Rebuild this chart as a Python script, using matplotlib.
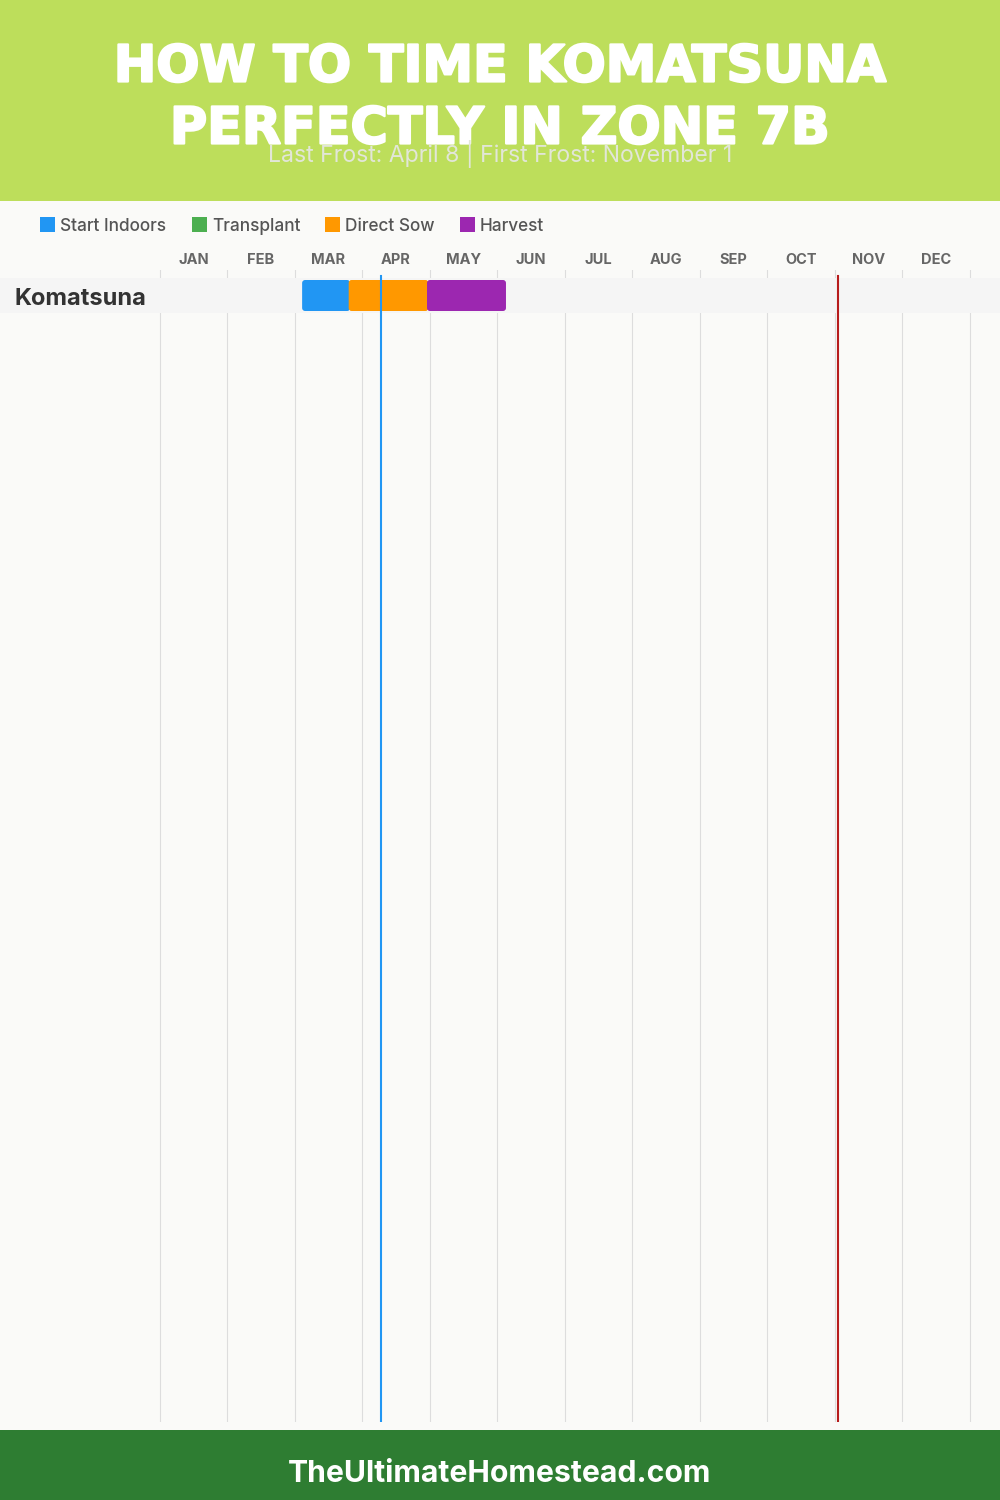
import matplotlib
matplotlib.use("Agg")
from matplotlib import pyplot as plt
from matplotlib import patheffects
from matplotlib.patches import FancyBboxPatch, Rectangle

# months are 1 unit wide, a date is month index + day / 30
months = ["JAN", "FEB", "MAR", "APR", "MAY", "JUN", "JUL", "AUG", "SEP", "OCT", "NOV", "DEC"]
crops = ["Komatsuna"]
legend_names = ["Start Indoors", "Transplant", "Direct Sow", "Harvest"]
legend_colors = ["#2196F3", "#4CAF50", "#FF9800", "#9C27B0"]

bar_starts = [2.11, 2.80, 3.96]
bar_ends = [2.82, 3.98, 5.13]
bar_colors = ["#2196F3", "#FF9800", "#9C27B0"]

last_frost = 3.285
first_frost = 10.05

W, H = 1000, 1500
BG = "#FAFAF8"
BODY = "Inter"
TITLE = "DejaVu Sans"

fig = plt.figure(figsize=(W / 100, H / 100), dpi=100, facecolor=BG)

# page layer in pixels, top left origin
page = fig.add_axes([0, 0, 1, 1])
page.set_xlim(0, W)
page.set_ylim(H, 0)
page.axis("off")
page.add_patch(Rectangle((0, 0), W, 201, color="#BDDE5B", lw=0))
page.add_patch(Rectangle((0, 1430), W, 70, color="#2E7D32", lw=0))

heavy = [patheffects.withStroke(linewidth=1.6, foreground="white")]
page.text(500, 62, "HOW TO TIME KOMATSUNA", color="white", fontsize=36.6, fontweight="bold",
          family=TITLE, ha="center", va="center_baseline", path_effects=heavy)
page.text(500, 124, "PERFECTLY IN ZONE 7B", color="white", fontsize=36.6, fontweight="bold",
          family=TITLE, ha="center", va="center_baseline", path_effects=heavy)
page.text(500, 151.5, "Last Frost: April 8 | First Frost: November 1", color="#E2E6D8", fontsize=16.6,
          family=BODY, ha="center", va="center_baseline")
page.text(500, 1471, "TheUltimateHomestead.com", color="white", fontsize=21.7, fontweight="bold",
          family=BODY, ha="center", va="center_baseline")

legend_x = [40, 192, 325, 460]
for x, name, c in zip(legend_x, legend_names, legend_colors):
    page.add_patch(Rectangle((x, 217), 15, 15, color=c, lw=0))
    page.text(x + 20, 224.5, name, color="#555555", fontsize=12.4, fontweight="medium",
              family=BODY, ha="left", va="center_baseline")

# chart layer, x in months, y in rows
px_per_month = 67.5
row_h = 35
top, bottom = 270, 1422
ax = fig.add_axes([0, 1 - bottom / H, 1, (bottom - top) / H])
ax.set_xlim(-159.7 / px_per_month, (W - 159.7) / px_per_month)
ax.set_ylim((bottom - 295.5) / row_h, (top - 295.5) / row_h)
ax.axis("off")
ax.patch.set_alpha(0)

for m in range(13):
    ax.axvline(m, color="#DDDDDD", lw=0.8, zorder=1)
for m, name in enumerate(months):
    ax.text(m + 0.5, (259 - 295.5) / row_h, name, color="#666666", fontsize=10.5, fontweight="bold",
            family=BODY, ha="center", va="center_baseline", clip_on=False)

for i, crop in enumerate(crops):
    ax.add_patch(Rectangle((ax.get_xlim()[0], i - 0.5), W / px_per_month, 1, color="#F5F5F5", lw=0, zorder=2))
    ax.text(-144.7 / px_per_month, i + 0.02, crop, color="#333333", fontsize=17, fontweight="bold",
            family=BODY, ha="left", va="center_baseline", zorder=5)

    for s, e, c in zip(bar_starts, bar_ends, bar_colors):
        r = 3 / px_per_month
        ax.add_patch(FancyBboxPatch((s, i - 15.5 / row_h), e - s, 31 / row_h,
                                    boxstyle="round,pad=0,rounding_size=%f" % r,
                                    mutation_aspect=px_per_month / row_h,
                                    fc=c, ec="none", zorder=3))

frost_top = 1 - (275.5 - top) / (bottom - top)
frost_bottom = 1 / (bottom - top)
ax.axvline(last_frost, ymin=frost_bottom, ymax=frost_top, color="#2196F3", lw=1.5, zorder=4)
ax.axvline(first_frost, ymin=frost_bottom, ymax=frost_top, color="#B71C1C", lw=1.5, zorder=4)

plt.savefig("out.png", dpi=100, facecolor=BG)
